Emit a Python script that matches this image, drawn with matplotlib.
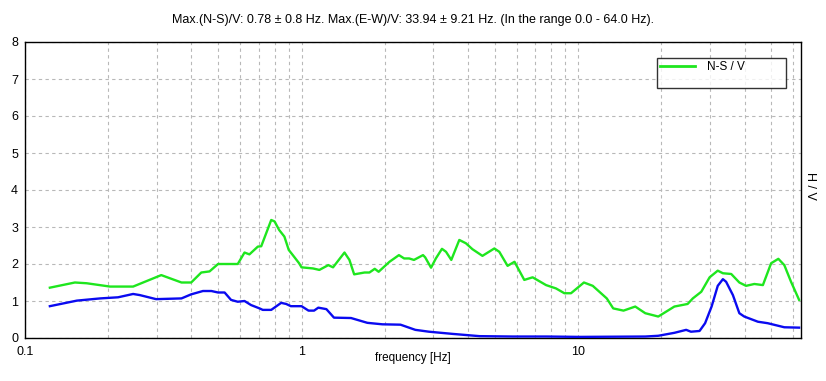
import matplotlib.pyplot as plt
from matplotlib.ticker import FixedLocator, NullFormatter, LogLocator
from matplotlib.lines import Line2D

plt.rcParams['font.family'] = ['Liberation Sans', 'DejaVu Sans']

# --- N-S / V (green) ---
ns_freq = [0.123, 0.1515, 0.167, 0.203, 0.246, 0.311, 0.368, 0.399, 0.434, 0.465,
           0.499, 0.588, 0.622, 0.648, 0.695, 0.715, 0.777, 0.799, 0.83, 0.867,
           0.899, 0.93, 0.98, 1.0, 1.10, 1.16, 1.25, 1.30, 1.43, 1.49,
           1.55, 1.69, 1.76, 1.84, 1.90, 2.08, 2.25, 2.35, 2.45, 2.55,
           2.75, 2.80, 2.94, 3.06, 3.22, 3.33, 3.48, 3.72, 3.93, 4.15,
           4.51, 4.98, 5.19, 5.56, 5.89, 6.39, 6.85, 7.66, 8.32, 8.92,
           9.43, 10.5, 11.3, 12.7, 13.4, 14.6, 16.1, 17.5, 19.5, 22.3,
           24.9, 26.0, 27.9, 29.9, 32.0, 33.4, 35.8, 38.3, 40.5, 43.4,
           46.6, 49.9, 53.0, 55.7, 58.9, 63.0]
ns_hv = [1.36, 1.50, 1.48, 1.39, 1.39, 1.70, 1.50, 1.50, 1.77, 1.80,
         2.00, 2.00, 2.31, 2.26, 2.47, 2.48, 3.19, 3.15, 2.92, 2.74,
         2.38, 2.24, 2.02, 1.91, 1.88, 1.84, 1.97, 1.91, 2.31, 2.11,
         1.72, 1.77, 1.77, 1.87, 1.79, 2.06, 2.24, 2.15, 2.15, 2.11,
         2.24, 2.18, 1.90, 2.15, 2.41, 2.33, 2.11, 2.65, 2.56, 2.40,
         2.22, 2.42, 2.33, 1.95, 2.06, 1.57, 1.64, 1.43, 1.34, 1.21,
         1.21, 1.50, 1.41, 1.07, 0.80, 0.74, 0.85, 0.67, 0.58, 0.85,
         0.92, 1.07, 1.25, 1.64, 1.82, 1.75, 1.73, 1.50, 1.41, 1.46,
         1.43, 2.02, 2.14, 1.97, 1.52, 1.03]

# --- E-W / V (blue) ---
ew_freq = [0.123, 0.154, 0.187, 0.217, 0.246, 0.26, 0.298, 0.368, 0.399, 0.44,
           0.472, 0.499, 0.527, 0.556, 0.588, 0.622, 0.657, 0.705, 0.724, 0.777,
           0.844, 0.88, 0.915, 1.0, 1.06, 1.11, 1.15, 1.23, 1.31, 1.51,
           1.73, 1.96, 2.28, 2.58, 2.89, 3.53, 4.4, 5.8, 7.7, 10.1,
           17.5, 19.5, 22.3, 24.6, 25.6, 27.5, 28.8, 30.4, 32.0, 33.4,
           34.3, 36.3, 38.3, 39.9, 44.7, 48.5, 55.7, 63.0]
ew_hv = [0.86, 1.01, 1.07, 1.10, 1.19, 1.16, 1.05, 1.07, 1.18, 1.27,
         1.27, 1.23, 1.23, 1.03, 0.98, 1.00, 0.89, 0.80, 0.76, 0.76,
         0.95, 0.92, 0.86, 0.86, 0.74, 0.74, 0.82, 0.78, 0.55, 0.54,
         0.41, 0.37, 0.36, 0.22, 0.17, 0.11, 0.05, 0.04, 0.04, 0.03,
         0.04, 0.06, 0.14, 0.22, 0.17, 0.19, 0.40, 0.85, 1.41, 1.59,
         1.52, 1.16, 0.67, 0.58, 0.44, 0.40, 0.29, 0.28]

x_ticks = [0.1, 1, 10]
x_ticklabels = ['0.1', '1', '10']
y_ticks = [0, 1, 2, 3, 4, 5, 6, 7, 8]

title = ('Max.(N-S)/V: 0.78 \u00b1 0.8 Hz. Max.(E-W)/V: 33.94 \u00b1 9.21 Hz. '
         '(In the range 0.0 - 64.0 Hz).')

fig = plt.figure(figsize=(8.26, 3.81), dpi=100)
ax = fig.add_axes([25 / 826, 1 - 338 / 381, 776 / 826, 296 / 381])

green = '#1ee61e'
blue = '#0a0af0'
ax.plot(ns_freq, ns_hv, color=green, lw=1.7, zorder=3)
ax.plot(ew_freq, ew_hv, color=blue, lw=1.7, zorder=3)

ax.set_xscale('log')
ax.set_xlim(0.1, 64)
ax.set_ylim(0, 8)
ax.xaxis.set_major_locator(FixedLocator(x_ticks))
ax.set_xticklabels(x_ticklabels)
ax.xaxis.set_minor_locator(LogLocator(base=10, subs=range(2, 10)))
ax.xaxis.set_minor_formatter(NullFormatter())
ax.set_yticks(y_ticks)
ax.tick_params(which='both', length=0, labelsize=9)
ax.tick_params(axis='x', pad=6)
ax.tick_params(axis='y', pad=5)

ax.grid(True, which='both', axis='x', color='#b8b8b8', linestyle=(0, (3, 3)), lw=0.8)
ax.grid(True, which='major', axis='y', color='#b8b8b8', linestyle=(0, (3, 3)), lw=0.8)
ax.set_axisbelow(True)
for s in ax.spines.values():
    s.set_linewidth(1.0)
    s.set_color('black')

fig.text(413 / 826, 1 - 20 / 381, title, ha='center', va='center', fontsize=9)
fig.text(413 / 826, 1 - 358 / 381, 'frequency [Hz]', ha='center', va='center', fontsize=8.5)
fig.text(810 / 826, 1 - 186 / 381, 'H / V', ha='center', va='center', fontsize=9, rotation=270)

# legend box: x 657..786, y 58..88 px
handles = [Line2D([], [], color=green, lw=2), Line2D([], [], color='none')]
leg = ax.legend(handles, ['N-S / V', ''], loc='upper left', mode='expand',
                bbox_to_anchor=((657 - 25) / 776, (338 - 88) / 296,
                                129 / 776, 30 / 296),
                frameon=True, fancybox=False, edgecolor='black', fontsize=8.5,
                handlelength=3.0, borderpad=0.25, labelspacing=0.05,
                borderaxespad=0, handletextpad=1.0)
leg.get_frame().set_linewidth(1.0)

fig.savefig('out.png', dpi=100)
